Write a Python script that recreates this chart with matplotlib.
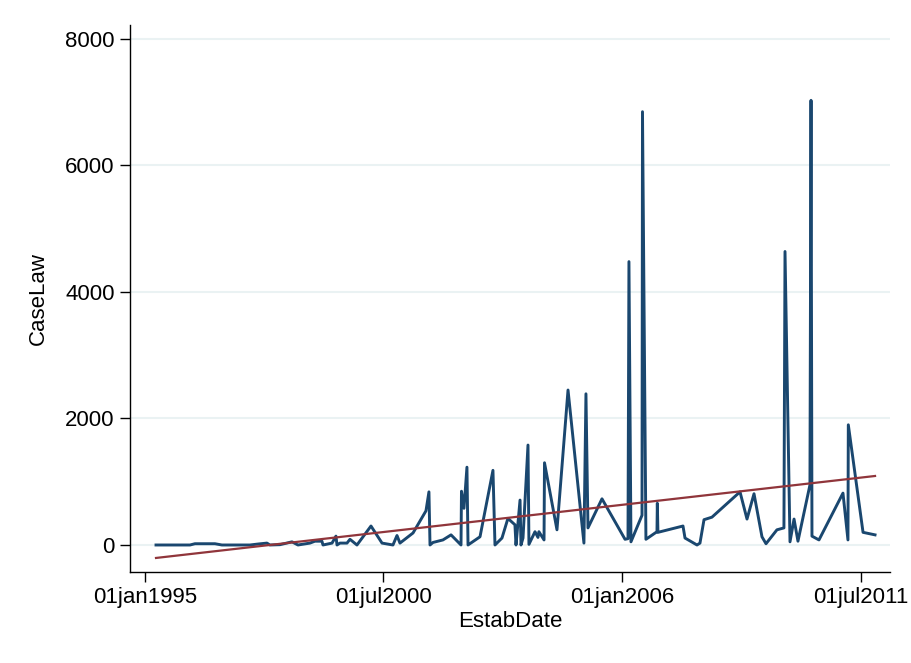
import matplotlib
matplotlib.use("Agg")
import matplotlib.pyplot as plt
import matplotlib.dates as mdates
import pandas as pd

plt.rcParams['font.family'] = ['Liberation Sans', 'DejaVu Sans']

estab_dates = [
    "1995-04-04", "1996-01-15", "1996-02-26", "1996-08-12", "1996-10-10",
    "1997-06-03", "1997-08-09", "1997-10-24", "1997-11-18", "1998-02-11",
    "1998-05-23", "1998-07-12", "1998-10-21", "1998-12-02", "1999-01-30",
    "1999-02-08", "1999-04-25", "1999-05-28", "1999-06-06", "1999-07-01",
    "1999-08-29", "1999-09-23", "1999-11-21", "2000-03-18", "2000-06-19",
    "2000-09-19", "2000-10-23", "2000-11-17", "2001-03-07", "2001-06-24",
    "2001-07-19", "2001-07-28", "2001-08-22", "2001-11-14", "2002-01-21",
    "2002-04-15", "2002-04-19", "2002-05-10", "2002-06-04", "2002-06-13",
    "2002-09-22", "2003-01-09", "2003-01-26", "2003-03-26", "2003-05-15",
    "2003-07-13", "2003-07-22", "2003-08-25", "2003-09-02", "2003-09-19",
    "2003-10-31", "2003-11-08", "2003-12-29", "2004-01-23", "2004-01-31",
    "2004-03-14", "2004-03-18", "2004-07-01", "2004-10-02", "2005-02-13",
    "2005-03-02", "2005-03-19", "2005-07-15", "2006-01-25", "2006-02-19",
    "2006-02-27", "2006-03-16", "2006-06-17", "2006-06-21", "2006-07-20",
    "2006-10-21", "2006-10-24", "2006-10-29", "2007-05-28", "2007-06-14",
    "2007-09-23", "2007-10-18", "2007-11-21", "2008-01-27", "2008-09-19",
    "2008-11-17", "2009-01-15", "2009-03-23", "2009-04-26", "2009-07-27",
    "2009-09-24", "2009-10-03", "2009-11-14", "2009-12-18", "2010-01-20",
    "2010-05-01", "2010-05-10", "2010-05-18", "2010-07-16", "2011-02-03",
    "2011-03-17", "2011-03-20", "2011-07-22", "2011-10-31",
]
case_law = [
    0, 0, 20, 20, 0,
    0, 15, 30, 0, 5,
    50, 0, 30, 60, 60,
    0, 30, 140, 0, 30,
    30, 90, 0, 300, 30,
    0, 150, 30, 190, 540,
    840, 0, 40, 80, 160,
    0, 850, 580, 1230, 0,
    130, 1180, 0, 110, 420,
    320, 0, 710, 0, 110,
    1580, 10, 210, 120, 210,
    80, 1300, 240, 2450, 30,
    2390, 270, 730, 90, 100,
    4480, 50, 470, 6850, 90,
    210, 660, 200, 300, 110,
    0, 30, 400, 440, 840,
    410, 810, 130, 20, 240,
    270, 4640, 50, 410, 60,
    950, 7030, 140, 80, 820,
    80, 1900, 200, 160,
]

fit_dates = ["1995-04-04", "2011-10-31"]
fit_values = [-205, 1091]

xtick_dates = ["1995-01-01", "2000-07-01", "2006-01-01", "2011-07-01"]
xtick_labels = ["01jan1995", "01jul2000", "01jan2006", "01jul2011"]
ytick_values = [0, 2000, 4000, 6000, 8000]

x = pd.to_datetime(estab_dates)
xf = pd.to_datetime(fit_dates)

fig = plt.figure(figsize=(9.11, 6.63), dpi=100)
ax = fig.add_axes([130/911, 1 - 572/663, 760/911, 547/663])

for v in ytick_values:
    ax.axhline(v, color="#eaf2f3", lw=1.5, zorder=0)

ax.plot(x, case_law, color="#1a476f", lw=2.1, zorder=3)
ax.plot(xf, fit_values, color="#90353b", lw=1.6, zorder=4)

ax.set_xlim(pd.Timestamp("1994-08-28"), pd.Timestamp("2012-03-05"))
ax.set_ylim(-427, 8221)

ax.set_xticks(pd.to_datetime(xtick_dates))
ax.set_xticklabels(xtick_labels)
ax.set_yticks(ytick_values)
ax.set_yticklabels([str(v) for v in ytick_values])

ax.tick_params(axis='both', direction='out', length=7, width=1, labelsize=16, pad=4, colors='black')
for s in ["top", "right"]:
    ax.spines[s].set_visible(False)
for s in ["left", "bottom"]:
    ax.spines[s].set_linewidth(1.0)
    ax.spines[s].set_color("black")

ax.set_xlabel("EstabDate", fontsize=16, labelpad=2)
ax.set_ylabel("CaseLaw", fontsize=16, labelpad=12)

fig.savefig("out.png", dpi=100, facecolor="white")
